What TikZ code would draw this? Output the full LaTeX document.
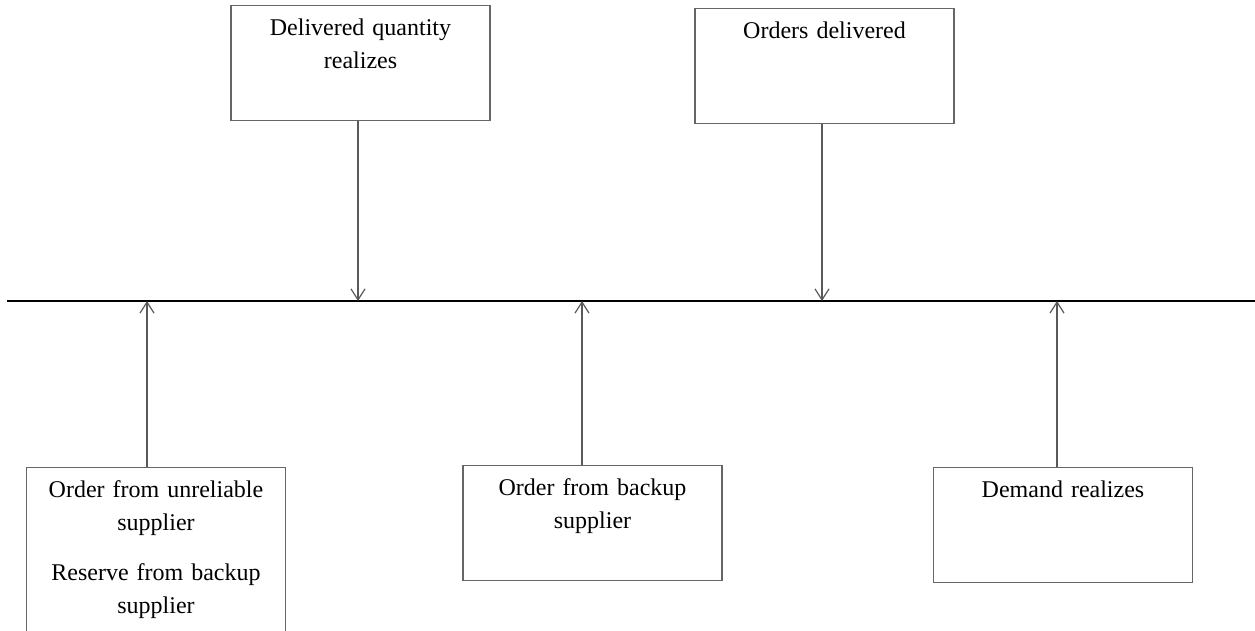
\documentclass[tikz,border=0pt]{standalone}
\usepackage{fontspec}
\setmainfont{Liberation Serif}
\usetikzlibrary{arrows.meta}

\begin{document}
\begin{tikzpicture}[x=0.5pt,y=-0.5pt,
  event/.style={draw=black!60,line width=0.6pt,anchor=north,minimum width=129.5pt,
    text width=126pt,align=center,inner xsep=0pt,inner ysep=0pt,
    text height=15pt,text depth=42.5pt,font=\fontsize{12}{16.5}\selectfont},
  tick/.style={draw=black!65,line width=0.6pt,-{Straight Barb[length=5.5pt,width=7pt]}}]
\clip (0,0) rectangle (1255,631);
% time line
\coordinate (start) at (7,301);
\coordinate (end) at (1255,301);
\draw[line width=1.3pt] (start) -- (end);
\coordinate (t1) at (147,301);
\coordinate (t2) at (358,301);
\coordinate (t3) at (582,301);
\coordinate (t4) at (822,301);
\coordinate (t5) at (1057,301);
% events
\node[event] (delivQ) at (360.5,5) {Delivered quantity\\realizes};
\node[event] (delivO) at (824.5,8) {Orders delivered};
\node[event,text depth=90pt] (orderU) at (156,467) {Order from unreliable\\supplier\\[8.5pt]Reserve from backup\\supplier};
\node[event] (orderB) at (592.5,465) {Order from backup\\supplier};
\node[event] (demand) at (1063,467) {Demand realizes};
% arrows
\draw[tick] (t2 |- delivQ.south) -- (t2);
\draw[tick] (t4 |- delivO.south) -- (t4);
\draw[tick] (t1 |- orderU.north) -- (t1);
\draw[tick] (t3 |- orderB.north) -- (t3);
\draw[tick] (t5 |- demand.north) -- (t5);
\end{tikzpicture}
\end{document}
